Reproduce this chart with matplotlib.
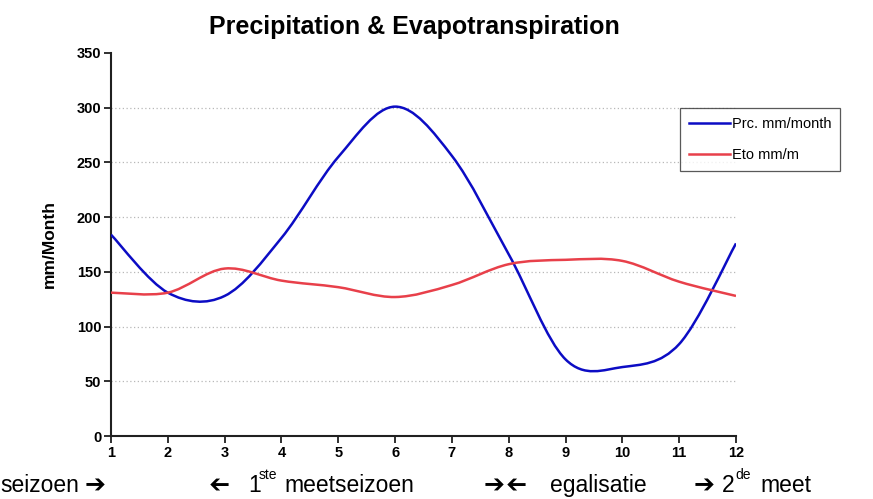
import matplotlib
matplotlib.use("Agg")
import matplotlib.pyplot as plt
from matplotlib.path import Path
from matplotlib.patches import PathPatch
from matplotlib.lines import Line2D
import numpy as np

# monthly values
months = [1, 2, 3, 4, 5, 6, 7, 8, 9, 10, 11, 12]
prc = [184, 131, 128, 181, 255, 301, 256, 166, 70, 63, 84, 176]
eto = [131, 131, 153, 142, 136, 127, 138, 157, 161, 160, 141, 128]

yticks = [0, 50, 100, 150, 200, 250, 300, 350]

W, H = 873, 499
fig = plt.figure(figsize=(W / 100, H / 100), dpi=100)
ax = fig.add_axes([111 / W, (H - 436) / H, (736 - 111) / W, (436 - 53) / H])

font = "Liberation Sans"


def smooth_path(x, y):
    # Excel style smoothed line: cubic bezier segments (Catmull-Rom control points)
    x = np.asarray(x, float)
    y = np.asarray(y, float)
    px = np.concatenate([[x[0]], x, [x[-1]]])
    py = np.concatenate([[y[0]], y, [y[-1]]])
    verts = [(x[0], y[0])]
    codes = [Path.MOVETO]
    for i in range(1, len(x)):
        c1 = (px[i] + (px[i + 1] - px[i - 1]) / 6, py[i] + (py[i + 1] - py[i - 1]) / 6)
        c2 = (px[i + 1] - (px[i + 2] - px[i]) / 6, py[i + 1] - (py[i + 2] - py[i]) / 6)
        verts += [c1, c2, (px[i + 1], py[i + 1])]
        codes += [Path.CURVE4] * 3
    return Path(verts, codes)


blue = "#0c0cc4"
red = "#e8404a"
ax.add_patch(PathPatch(smooth_path(months, prc), facecolor="none", edgecolor=blue,
                       lw=1.8, transform=ax.transData, zorder=3))
ax.add_patch(PathPatch(smooth_path(months, eto), facecolor="none", edgecolor=red,
                       lw=1.8, transform=ax.transData, zorder=3))

ax.set_xlim(1, 12)
ax.set_ylim(0, 350)
ax.set_xticks(months)
ax.set_yticks(yticks)
for y in yticks[1:-1]:
    ax.axhline(y, color="#b8b8b8", lw=0.9, ls=(0, (1, 2)), zorder=1)

for s in ["top", "right"]:
    ax.spines[s].set_visible(False)
for s in ["left", "bottom"]:
    ax.spines[s].set_linewidth(1.5)
    ax.spines[s].set_color("#202020")
ax.tick_params(direction="out", length=5, width=1.3, color="#202020", pad=2)
for lab in ax.get_xticklabels() + ax.get_yticklabels():
    lab.set_fontfamily(font)
    lab.set_fontweight("bold")
    lab.set_fontsize(10.5)
ax.set_ylabel("mm/Month", fontfamily=font, fontweight="bold", fontsize=12.5, labelpad=14)

fig.text(414 / W, 1 - 27 / H, "Precipitation & Evapotranspiration", ha="center", va="center",
         fontfamily=font, fontweight="bold", fontsize=18)

handles = [Line2D([], [], color=blue, lw=1.8), Line2D([], [], color=red, lw=1.8)]
leg = fig.legend(handles, ["Prc. mm/month", "Eto mm/m"], loc="upper left",
                 bbox_to_anchor=(680 / W, 1 - 108 / H), prop={"family": font, "size": 10.5},
                 frameon=True, fancybox=False, handlelength=2.8, handletextpad=0.15,
                 borderpad=0.6, labelspacing=1.2, borderaxespad=0)
leg.get_frame().set_edgecolor("#303030")
leg.get_frame().set_linewidth(0.9)

# bottom annotation row
base = 1 - 492 / H
big = 16.5
small = 10
sup = 1 - 479 / H
words = [
    (0, base, "seizoen", big),
    (248, base, "1", big),
    (259, sup, "ste", small),
    (284, base, "meetseizoen", big),
    (550, base, "egalisatie", big),
    (722, base, "2", big),
    (735, sup, "de", small),
    (760, base, "meet", big),
]
for x, y, t, size in words:
    fig.text(x / W, y, t, ha="left", va="baseline", fontsize=size, fontfamily=font)

# heavy arrows; the left ones are the same glyph turned round
arrows = [(95, 0), (217, 180), (494, 0), (514, 180), (704, 0)]
for x, rot in arrows:
    y = 485 if rot == 0 else 482
    fig.text(x / W, 1 - y / H, "\u2794", ha="center", va="center", rotation=rot,
             rotation_mode="anchor", fontsize=18, fontweight="bold", fontfamily="DejaVu Sans")

fig.savefig("out.png", dpi=100)
